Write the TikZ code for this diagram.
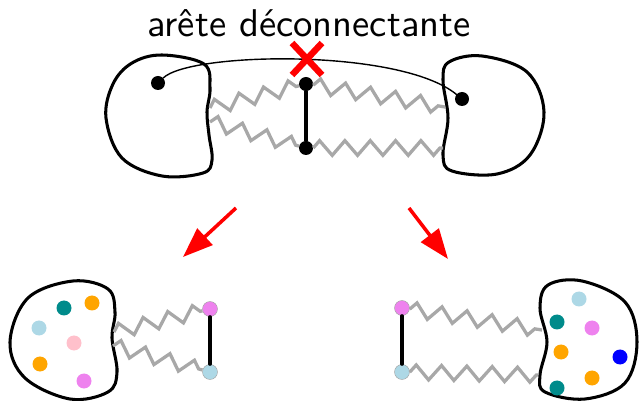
\documentclass[tikz,border=0pt]{standalone}
\usepackage{tikz}
\usepackage{graphicx}
\usetikzlibrary{arrows.meta, decorations.pathmorphing, calc}
\definecolor{zzgray}{HTML}{A8A8A8}
\definecolor{cutred}{HTML}{FF0000}
\definecolor{cteal}{HTML}{008B8B}
\definecolor{corange}{HTML}{FFA500}
\definecolor{clblue}{HTML}{ADD8E6}
\definecolor{cpink}{HTML}{FFC0CB}
\definecolor{cviolet}{HTML}{EE82EE}
\definecolor{cblue}{HTML}{0000FF}

\begin{document}
\begin{tikzpicture}[
  x=0.03cm, y=-0.03cm,
  line cap=round, line join=round,
  blob/.style = {draw=black, line width=2.6pt},
  vtx/.style  = {circle, fill=black, inner sep=0pt, minimum size=0.42cm},
  cpt/.style  = {circle, fill=#1, inner sep=0pt, minimum size=0.45cm},
  ept/.style  = {circle, fill=#1, draw=black!35, line width=0.4pt,
                 inner sep=0pt, minimum size=0.45cm},
  edge/.style = {draw=black, line width=2.6pt},
  zz/.style   = {draw=zzgray, line width=2.8pt, line join=miter, line cap=butt,
                 decorate, decoration={zigzag, segment length=0.76cm,
                 amplitude=0.22cm}},
  cut/.style  = {draw=cutred, line width=5.5pt, line cap=butt},
  arr/.style  = {draw=cutred, line width=3pt, line cap=butt,
                 -{Triangle[length=0.9cm, width=0.66cm]}}
]
\useasboundingbox (0,0) rectangle (639,401);

% titre
\node[anchor=base, inner sep=0pt] (titre) at (309,37)
  {\scalebox{3.3}{\sffamily arête déconnectante}};

% graphe du haut : deux composantes
\draw[blob] plot[smooth cycle, tension=0.6] coordinates {
  (162,55) (204,64) (210,88) (207,112) (209,135) (212,160) (203,173)
  (162,176) (122,158) (106,118) (113,84) (132,63)};
\draw[blob] plot[smooth cycle, tension=0.6] coordinates {
  (449,62) (482,56) (527,72) (544,112) (530,155) (497,174) (452,171)
  (443,155) (448,118) (443,80)};

\node[vtx] (lg) at (158,83)  {};
\node[vtx] (ld) at (462,99)  {};
\node[vtx] (mh) at (306,84)  {};
\node[vtx] (mb) at (306,148) {};

\coordinate (g1) at (210,108);
\coordinate (g2) at (210,122);
\coordinate (d1) at (445,107);
\coordinate (d2) at (443,148);

\draw[zz] (g1) -- (mh);
\draw[zz] (mh) -- (d1);
\draw[zz] (g2) -- (mb);
\draw[zz] (mb) -- (d2);
\draw[edge] (mh) -- (mb);

% l'arete coupee
\draw[line width=1.2pt] (lg) .. controls (190,52) and (400,48) .. (ld);
\coordinate (x) at (307,59);
\draw[cut] ($(x)+(-15,-16)$) -- ($(x)+(15,16)$);
\draw[cut] ($(x)+(15,-16)$) -- ($(x)+(-15,16)$);

% fleches
\coordinate (fa1) at (236,208);
\coordinate (fb1) at (183,257);
\coordinate (fa2) at (409,208);
\coordinate (fb2) at (448,259);
\draw[arr] (fa1) -- (fb1);
\draw[arr] (fa2) -- (fb2);

% en bas a gauche
\draw[blob] plot[smooth cycle, tension=0.6] coordinates {
  (73,281) (108,289) (115,312) (112,338) (117,372) (108,392) (70,399)
  (25,378) (10,342) (28,298)};
\node[cpt=cteal]   (a1) at (64,308)  {};
\node[cpt=corange] (a2) at (92,303)  {};
\node[cpt=clblue]  (a3) at (39,328)  {};
\node[cpt=cpink]   (a4) at (74,343)  {};
\node[cpt=corange] (a5) at (40,364)  {};
\node[cpt=cviolet] (a6) at (84,381)  {};
\node[ept=cviolet] (bgh) at (210,309) {};
\node[ept=clblue]  (bgb) at (210,372) {};
\coordinate (bg1) at (114,332);
\coordinate (bg2) at (113,346);
\draw[zz] (bg1) -- (bgh);
\draw[zz] (bg2) -- (bgb);
\draw[edge] (bgh) -- (bgb);

% en bas a droite
\draw[blob] plot[smooth cycle, tension=0.6] coordinates {
  (548,285) (582,281) (625,302) (637,342) (625,383) (585,399) (545,392)
  (540,375) (547,342) (540,308)};
\node[cpt=clblue]  (c1) at (579,299) {};
\node[cpt=cteal]   (c2) at (557,322) {};
\node[cpt=cviolet] (c3) at (592,328) {};
\node[cpt=corange] (c4) at (561,352) {};
\node[cpt=cblue]   (c5) at (620,357) {};
\node[cpt=corange] (c6) at (592,378) {};
\node[cpt=cteal]   (c7) at (557,388) {};
\node[ept=cviolet] (bdh) at (402,308) {};
\node[ept=clblue]  (bdb) at (402,372) {};
\coordinate (bd1) at (542,330);
\coordinate (bd2) at (538,375);
\draw[zz] (bdh) -- (bd1);
\draw[zz] (bdb) -- (bd2);
\draw[edge] (bdh) -- (bdb);

\end{tikzpicture}
\end{document}
